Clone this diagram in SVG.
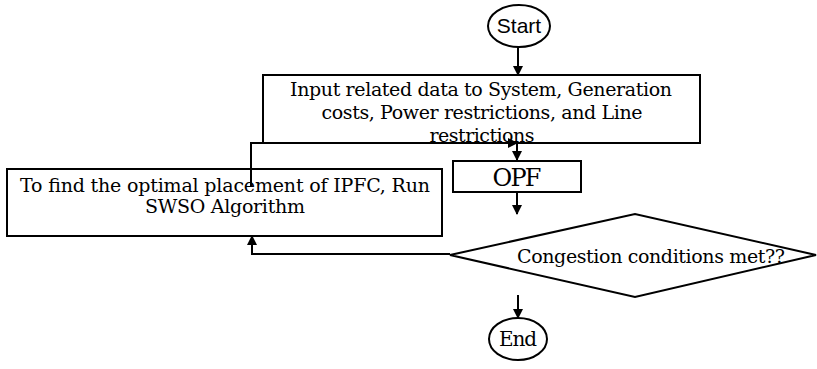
<svg xmlns="http://www.w3.org/2000/svg" width="817" height="369" viewBox="0 0 817 369">
<defs>
<marker id="ah" markerWidth="10" markerHeight="10" refX="9" refY="5" orient="auto" markerUnits="userSpaceOnUse"><path d="M0,0 L10,5 L0,10 z" fill="#000"/></marker>
<style>
.box{fill:#fff;stroke:#000;stroke-width:2}
.ln{fill:none;stroke:#000;stroke-width:2}
.t{font-family:"DejaVu Serif","Liberation Serif",serif;font-size:19px;fill:#000;text-anchor:middle}
.s{font-family:"Liberation Sans",Arial,sans-serif;font-size:21px;fill:#000;text-anchor:middle}
</style>
</defs>
<rect width="817" height="369" fill="#fff"/>
<g id="start">
<ellipse class="box" cx="519" cy="26" rx="31" ry="21"/>
<text class="s" x="519" y="33">Start</text>
</g>
<g id="input">
<rect class="box" x="263" y="75" width="437" height="68"/>
<text class="t" x="481" y="96" textLength="382">Input related data to System, Generation</text>
<text class="t" x="482" y="119" textLength="321">costs, Power restrictions, and Line</text>
<text class="t" x="482" y="142" textLength="105">restrictions</text>
</g>
<g id="opf">
<rect class="box" x="453" y="161" width="128" height="31"/>
<text class="t" x="517" y="186" style="font-size:24px" textLength="49">OPF</text>
</g>
<g id="ipfc">
<rect class="box" x="7" y="169" width="435" height="67"/>
<text class="t" x="225" y="192" textLength="410">To find the optimal placement of IPFC, Run</text>
<text class="t" x="225" y="213" textLength="160">SWSO Algorithm</text>
</g>
<g id="decision">
<polygon class="box" points="450,255 635,214 816,255 635,297"/>
<text class="t" x="651" y="263" textLength="268">Congestion conditions met??</text>
</g>
<g id="end">
<ellipse class="box" cx="518" cy="339" rx="29" ry="21"/>
<text class="t" x="518" y="346" style="font-size:20px" textLength="38">End</text>
</g>
<g id="connectors">
<line class="ln" x1="518" y1="47" x2="518" y2="75" marker-end="url(#ah)"/>
<polyline class="ln" points="251,186 251,143 517,143" marker-end="url(#ah)"/>
<line class="ln" x1="517" y1="143" x2="517" y2="160" marker-end="url(#ah)"/>
<line class="ln" x1="517" y1="192" x2="517" y2="214" marker-end="url(#ah)"/>
<polyline class="ln" points="450,254 252,254 252,236" marker-end="url(#ah)"/>
<line class="ln" x1="518" y1="295" x2="518" y2="318" marker-end="url(#ah)"/>
</g>
</svg>
